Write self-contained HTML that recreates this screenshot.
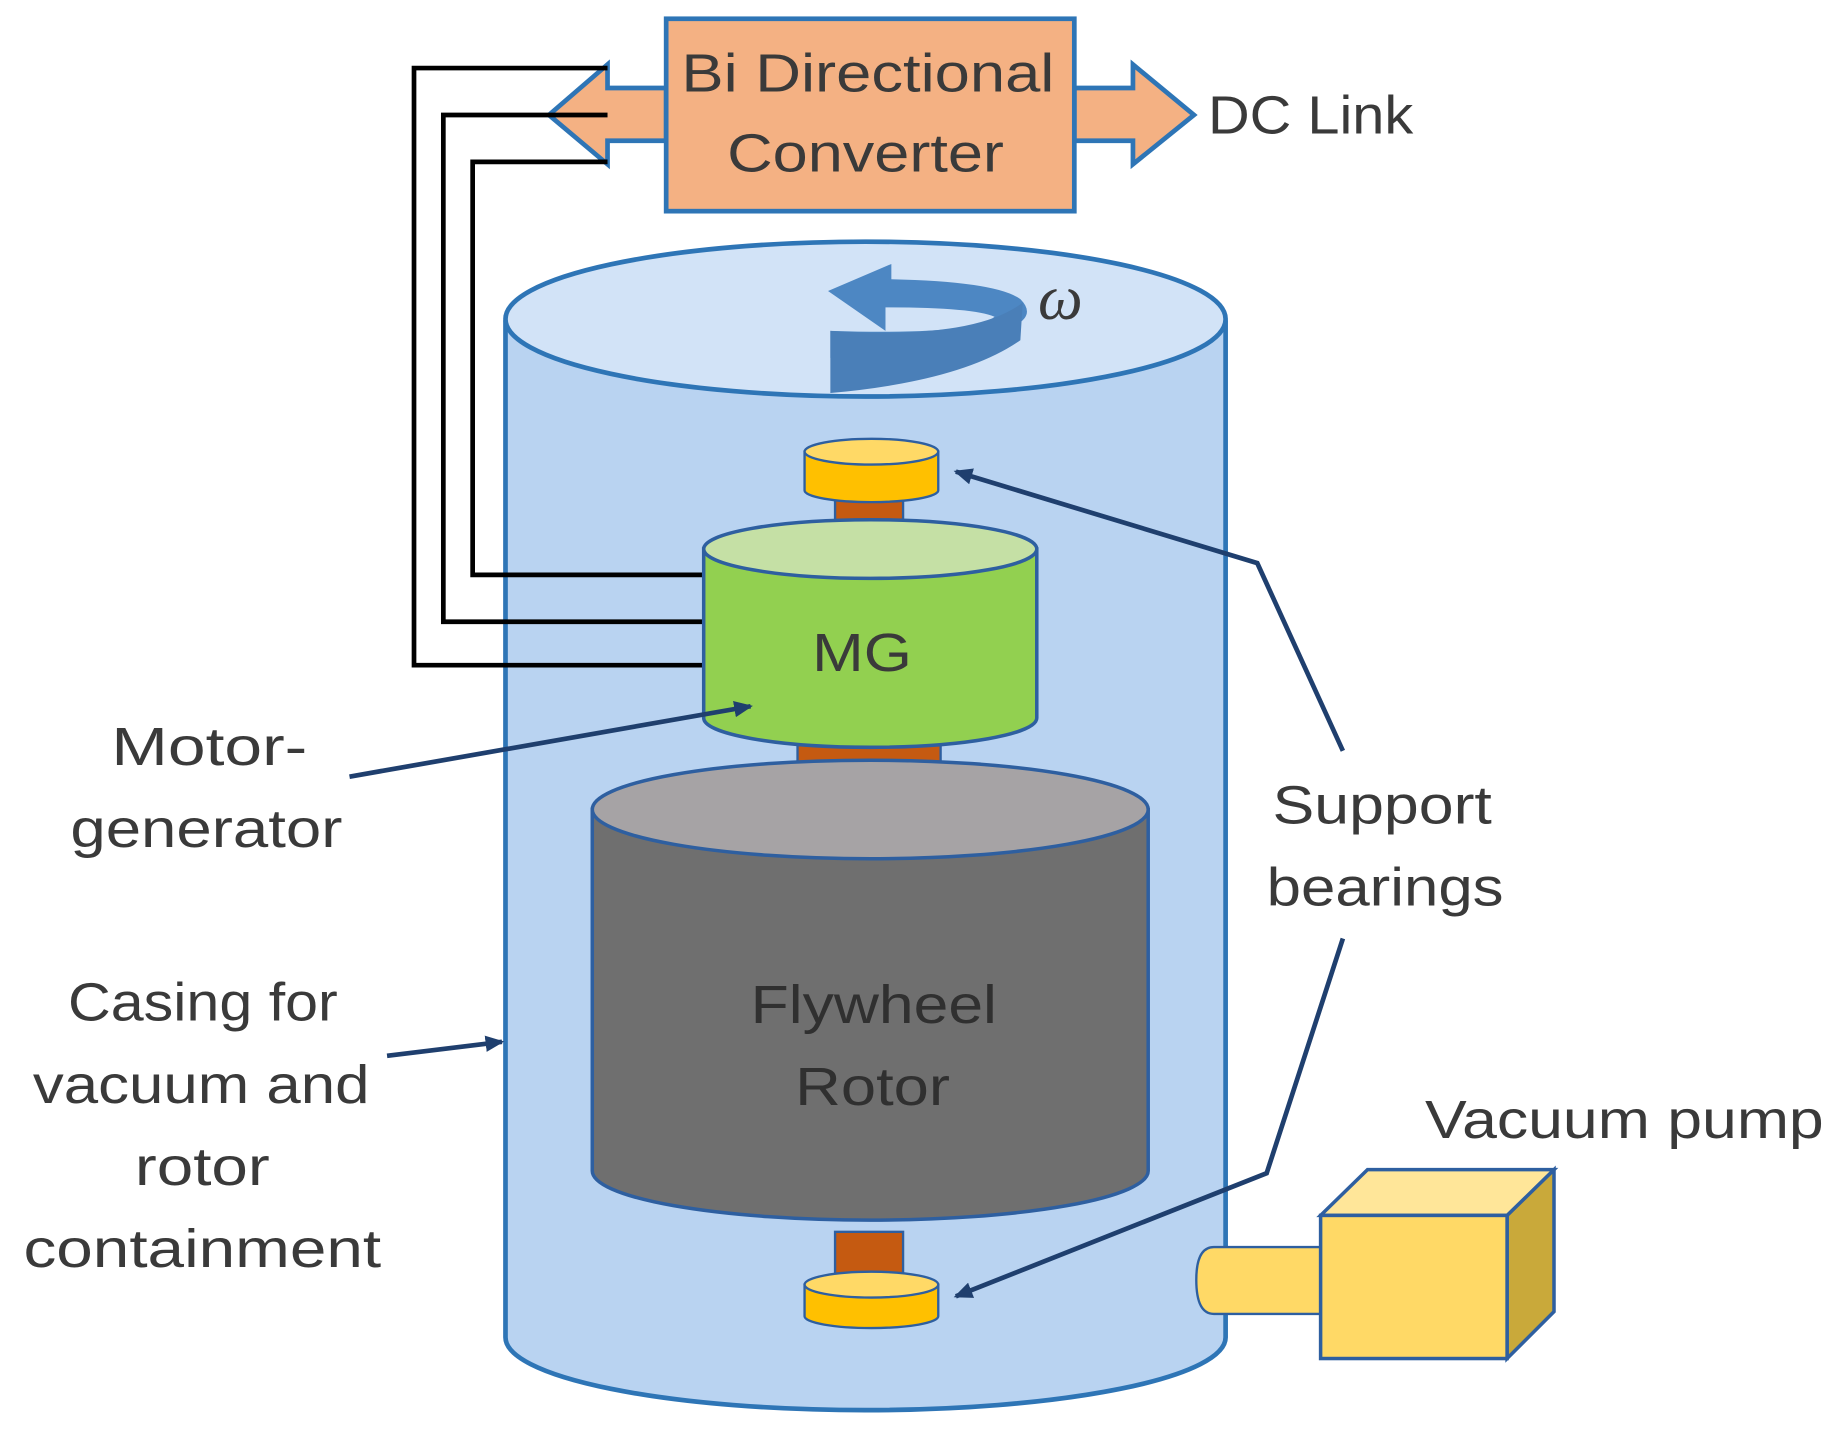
<!DOCTYPE html>
<html><head><meta charset="utf-8"><style>
html,body{margin:0;padding:0;background:#fff;}
svg{display:block;}
text{font-family:"Liberation Sans",sans-serif;fill:#3a3a3a;}
</style></head><body>
<svg width="1839" height="1443" viewBox="0 0 1568 1230" preserveAspectRatio="none" xmlns="http://www.w3.org/2000/svg">
<defs>
<marker id="ah" markerWidth="16" markerHeight="14" refX="14" refY="7" orient="auto" markerUnits="userSpaceOnUse" viewBox="0 0 16 14">
<path d="M0,0 L16,7 L0,14 z" fill="#1f3f6e"/></marker>
</defs>
<!-- double arrow -->
<path d="M468,98 L518,55 L518,75 L568,75 L568,120 L518,120 L518,140 Z" fill="#f4b183" stroke="#2e75b6" stroke-width="4"/>
<path d="M1018,98 L966,55 L966,75 L916,75 L916,120 L966,120 L966,140 Z" fill="#f4b183" stroke="#2e75b6" stroke-width="4"/>
<rect x="568" y="16" width="348" height="164" fill="#f4b183" stroke="#2e75b6" stroke-width="4"/>
<text x="740" y="78" font-size="46" text-anchor="middle" textLength="318" lengthAdjust="spacingAndGlyphs">Bi Directional</text>
<text x="738" y="146" font-size="46" text-anchor="middle" textLength="236" lengthAdjust="spacingAndGlyphs">Converter</text>
<text x="1030" y="114" font-size="46" textLength="175" lengthAdjust="spacingAndGlyphs">DC Link</text>
<!-- casing -->
<path d="M431,275 L431,1140 A307,62 0 0 0 1045,1140 L1045,275 Z" fill="#b9d3f1" stroke="#2e75b6" stroke-width="4"/>
<ellipse cx="738" cy="272" rx="307" ry="66" fill="#d2e3f7" stroke="#2e75b6" stroke-width="4"/>
<!-- wires -->
<g fill="none" stroke="#000" stroke-width="4">
<polyline points="518,58 353,58 353,567 602,567"/>
<polyline points="518,98 378,98 378,530 602,530"/>
<polyline points="518,138 403,138 403,490 602,490"/>
</g>
<!-- omega arrow -->
<path d="M708,305 Q800,300 860,280 Q885,270 870,255 Q850,240 760,238 L760,225 L706,248 L755,282 L755,262 Q830,262 848,270 Q830,286 708,282 Z" fill="#4d87c3"/>
<path d="M708,282 L708,335 Q820,325 870,290 L872,258 Q830,290 708,282 Z" fill="#4a7fb8"/>
<text x="885" y="272" font-size="54" font-style="italic" style="font-family:'Liberation Serif',serif">ω</text>
<!-- top bearing -->
<rect x="712" y="420" width="58" height="44" fill="#c55a11" stroke="#2e5fa0" stroke-width="2"/>
<path d="M686,385 L686,418 A57,10 0 0 0 800,418 L800,385 Z" fill="#ffc000" stroke="#2e5fa0" stroke-width="2"/>
<ellipse cx="743" cy="385" rx="57" ry="11" fill="#ffd966" stroke="#2e5fa0" stroke-width="2"/>
<!-- shaft mid -->
<rect x="680" y="630" width="122" height="70" fill="#c55a11" stroke="#2e5fa0" stroke-width="2"/>
<!-- MG -->
<path d="M600,468 L600,612 A142,25 0 0 0 884,612 L884,468 Z" fill="#92d050" stroke="#2e5fa0" stroke-width="3"/>
<ellipse cx="742" cy="468" rx="142" ry="25" fill="#c5e0a5" stroke="#2e5fa0" stroke-width="3"/>
<text x="735" y="572" font-size="46" text-anchor="middle" textLength="85" lengthAdjust="spacingAndGlyphs">MG</text>
<!-- flywheel -->
<path d="M505,690 L505,998 A237,42 0 0 0 979,998 L979,690 Z" fill="#6f6f6f" stroke="#2e5fa0" stroke-width="3"/>
<ellipse cx="742" cy="690" rx="237" ry="42" fill="#a6a3a5" stroke="#2e5fa0" stroke-width="3"/>
<text x="745" y="872" font-size="46" text-anchor="middle" textLength="210" lengthAdjust="spacingAndGlyphs" style="fill:#303030">Flywheel</text>
<text x="744" y="942" font-size="46" text-anchor="middle" textLength="132" lengthAdjust="spacingAndGlyphs" style="fill:#303030">Rotor</text>
<!-- bottom bearing -->
<rect x="712" y="1050" width="58" height="45" fill="#c55a11" stroke="#2e5fa0" stroke-width="2"/>
<path d="M686,1095 L686,1122 A57,10 0 0 0 800,1122 L800,1095 Z" fill="#ffc000" stroke="#2e5fa0" stroke-width="2"/>
<ellipse cx="743" cy="1095" rx="57" ry="11" fill="#ffd966" stroke="#2e5fa0" stroke-width="2"/>
<!-- vacuum pump -->
<path d="M1126,1063 L1035,1063 Q1020,1063 1020,1091 Q1020,1120 1035,1120 L1126,1120 Z" fill="#ffd966" stroke="#2e5fa0" stroke-width="2"/>
<path d="M1285,1036 L1325,997 L1325,1118 L1285,1158 Z" fill="#c9a93a" stroke="#2e5fa0" stroke-width="3"/>
<path d="M1126,1036 L1166,997 L1325,997 L1285,1036 Z" fill="#ffe699" stroke="#2e5fa0" stroke-width="3"/>
<rect x="1126" y="1036" width="159" height="122" fill="#ffd966" stroke="#2e5fa0" stroke-width="3"/>
<text x="1215" y="970" font-size="46" textLength="340" lengthAdjust="spacingAndGlyphs">Vacuum pump</text>
<!-- labels & arrows -->
<g fill="none" stroke="#1f3f6e" stroke-width="4">
<line x1="298" y1="662" x2="640" y2="602" marker-end="url(#ah)"/>
<line x1="330" y1="900" x2="428" y2="888" marker-end="url(#ah)"/>
<polyline points="1145,640 1072,480 815,402" marker-end="url(#ah)"/>
<polyline points="1145,800 1080,1000 815,1105" marker-end="url(#ah)"/>
</g>
<text x="95" y="652" font-size="46" textLength="167" lengthAdjust="spacingAndGlyphs">Motor-</text>
<text x="60" y="722" font-size="46" textLength="232" lengthAdjust="spacingAndGlyphs">generator</text>
<text x="58" y="870" font-size="46" textLength="230" lengthAdjust="spacingAndGlyphs">Casing for</text>
<text x="28" y="940" font-size="46" textLength="287" lengthAdjust="spacingAndGlyphs">vacuum and</text>
<text x="115" y="1010" font-size="46" textLength="115" lengthAdjust="spacingAndGlyphs">rotor</text>
<text x="20" y="1080" font-size="46" textLength="305" lengthAdjust="spacingAndGlyphs">containment</text>
<text x="1085" y="702" font-size="46" textLength="187" lengthAdjust="spacingAndGlyphs">Support</text>
<text x="1080" y="772" font-size="46" textLength="202" lengthAdjust="spacingAndGlyphs">bearings</text>
</svg>
</body></html>
